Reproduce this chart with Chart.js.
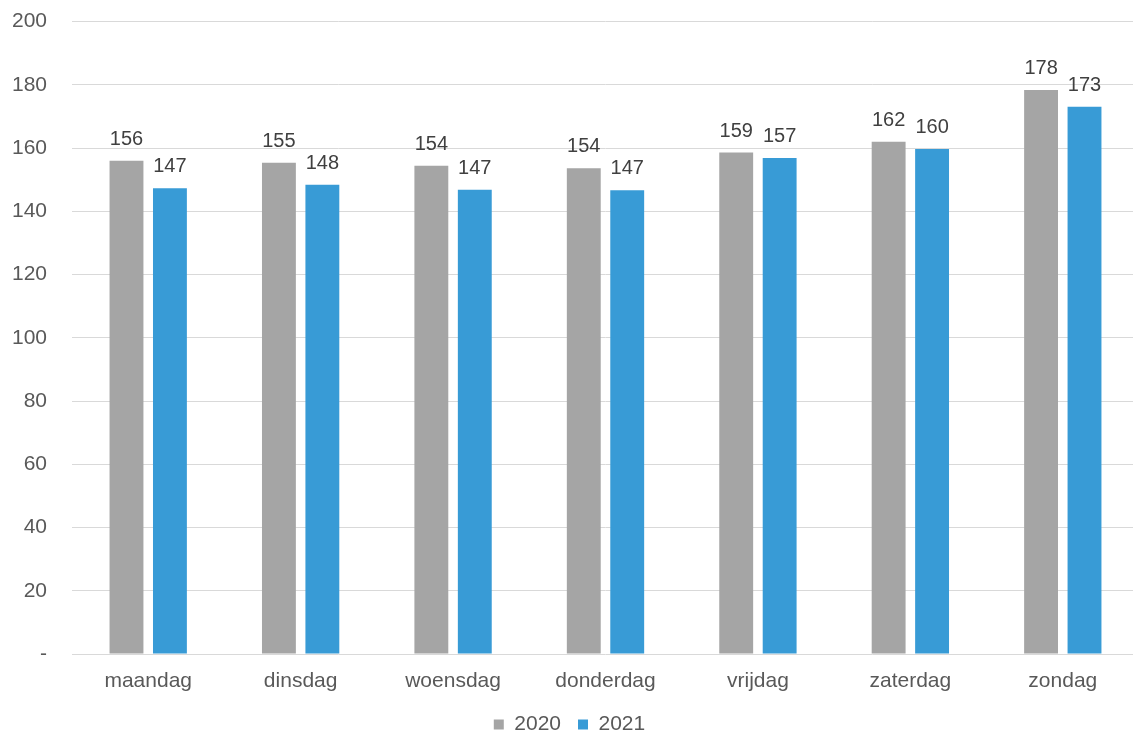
<!DOCTYPE html>
<html>
<head>
<meta charset="utf-8">
<script src="https://cdn.jsdelivr.net/npm/chart.js@4.4.1/dist/chart.umd.min.js"></script>
<style>
	body { margin: 0; background: #fff; overflow: hidden; width: 1133px; height: 737px; }
	#wrap { width: 1139px; height: 761px; margin-top: -16px; }
</style>
</head>
<body>
<div id="wrap"><canvas id="weekChart"></canvas></div>
<script>
// dagen van de week
var days = ['maandag', 'dinsdag', 'woensdag', 'donderdag', 'vrijdag', 'zaterdag', 'zondag'];
var series2020 = [156.0, 155.4, 154.4, 153.6, 158.6, 162.0, 178.4];
var series2021 = [147.3, 148.4, 146.8, 146.7, 156.9, 159.7, 173.1];
var yTicks = [0, 20, 40, 60, 80, 100, 120, 140, 160, 180, 200];

var textColor = '#595959';
var fontFam = '"Liberation Sans", Arial, sans-serif';

// waarden boven de balken
var barLabels = {
	id: 'barLabels',
	afterDatasetsDraw: function(chart) {
		var ctx = chart.ctx;
		ctx.save();
		ctx.font = '20px ' + fontFam;
		ctx.fillStyle = '#404040';
		ctx.textAlign = 'center';
		ctx.textBaseline = 'alphabetic';
		chart.data.datasets.forEach(function(ds, i) {
			chart.getDatasetMeta(i).data.forEach(function(bar, j) {
				ctx.fillText(Math.round(ds.data[j]), bar.x, bar.y - 16);
			});
		});
		ctx.restore();
	}
};

var ctx = document.getElementById('weekChart').getContext('2d');
new Chart(ctx, {
	type: 'bar',
	data: {
		labels: days,
		datasets: [{
			label: '2020',
			data: series2020,
			backgroundColor: '#a5a5a5',
			categoryPercentage: 0.57,
			barPercentage: 0.78
		}, {
			label: '2021',
			data: series2021,
			backgroundColor: '#389bd6',
			categoryPercentage: 0.57,
			barPercentage: 0.78
		}]
	},
	options: {
		responsive: true,
		maintainAspectRatio: false,
		animation: false,
		layout: { padding: 0 },
		plugins: {
			tooltip: { enabled: false },
			legend: {
				position: 'bottom',
				labels: {
					usePointStyle: true,
					pointStyle: 'rect',
					boxWidth: 10,
					boxHeight: 10,
					padding: 17,
					color: textColor,
					font: { family: fontFam, size: 21 }
				}
			}
		},
		scales: {
			x: {
				grid: { display: false, drawTicks: false },
				border: { display: false },
				ticks: { color: textColor, padding: 15, font: { family: fontFam, size: 21 } },
				afterFit: function(s) { s.height = 43; }
			},
			y: {
				min: 0,
				max: 200,
				afterBuildTicks: function(s) { s.ticks = yTicks.map(function(v) { return { value: v }; }); },
				grid: { color: '#d9d9d9', drawTicks: false },
				border: { display: false },
				ticks: {
					color: textColor,
					padding: 25,
					font: { family: fontFam, size: 21 },
					callback: function(v) { return v === 0 ? '-' : v; }
				},
				afterFit: function(s) { s.width = 72; }
			}
		}
	},
	plugins: [barLabels]
});
</script>
</body>
</html>
